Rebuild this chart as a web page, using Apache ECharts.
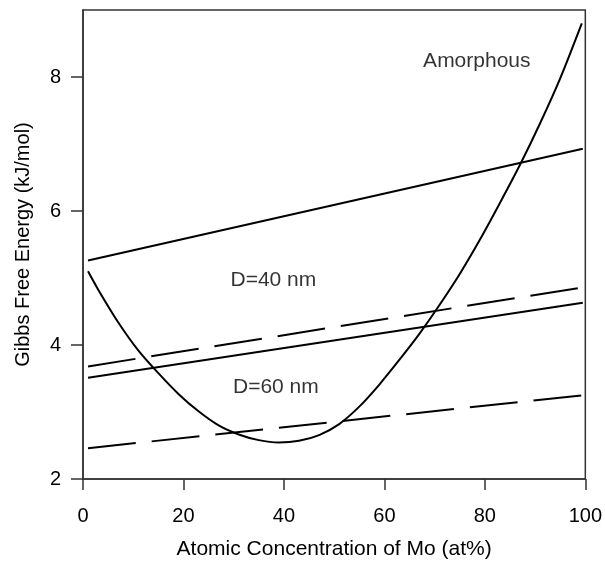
<!DOCTYPE html>
<html>
<head>
<meta charset="utf-8">
<script src="https://cdn.jsdelivr.net/npm/echarts@6/dist/echarts.min.js"></script>
<style>
  html, body { margin: 0; padding: 0; background: #fff; }
  #chart { width: 605px; height: 565px; }
</style>
</head>
<body>
<div id="chart"></div>
<script>
// x ticks / y ticks
const xTicks = [0, 20, 40, 60, 80, 100]
const yTicks = [2, 4, 6, 8]

// amorphous free energy curve
const amorphX = [1, 3, 7, 11, 15, 19, 23, 27, 31, 35, 39, 43, 47, 51, 55, 59, 63, 67, 71, 75, 79, 83, 87, 91, 95, 99.3]
const amorphY = [5.10, 4.83, 4.34, 3.92, 3.58, 3.27, 3.01, 2.80, 2.665, 2.58, 2.545, 2.57, 2.655, 2.82, 3.08, 3.41, 3.78, 4.17, 4.60, 5.06, 5.57, 6.12, 6.69, 7.31, 7.98, 8.80]

// straight lines: end points at x = 1 and x = 99.5
const lineX = [1, 99.5]
const topSolidY = [5.26, 6.93]
const d40DashY = [3.68, 4.86]
const d40SolidY = [3.51, 4.63]
const d60DashY = [2.46, 3.25]

// text notes
const noteText = ['Amorphous', 'D=40 nm', 'D=60 nm']
const noteX = [78.4, 37.9, 38.4]
const noteY = [8.23, 4.97, 3.37]

const pairs = (xs, ys) => xs.map((x, i) => [x, ys[i]])

const ink = '#000'
const font = 'Liberation Sans, Arial, Helvetica, sans-serif'

const chart = echarts.init(document.getElementById('chart'), null, { renderer: 'canvas' })

const solid = { color: ink, width: 2, type: 'solid' }
const dashed = { color: ink, width: 2, type: [48, 16] }

const option = {
  animation: false,
  backgroundColor: '#fff',
  grid: {
    left: 83, right: 19, top: 10, bottom: 84,
    show: true, borderColor: '#333', borderWidth: 1.5,
  },
  xAxis: {
    type: 'value',
    min: 0, max: 100, interval: 20,
    name: 'Atomic Concentration of Mo (at%)',
    nameLocation: 'middle',
    nameGap: 60,
    nameTextStyle: { fontSize: 21, color: ink, fontFamily: font },
    axisLine: { show: true, onZero: false, lineStyle: { color: '#333', width: 1.5 } },
    axisTick: { show: true, inside: false, length: 11, customValues: xTicks, lineStyle: { color: '#333', width: 1.5 } },
    axisLabel: { customValues: xTicks, margin: 27, fontSize: 20, color: ink, fontFamily: font },
    splitLine: { show: false },
  },
  yAxis: {
    type: 'value',
    min: 2, max: 9,
    name: 'Gibbs Free Energy (kJ/mol)',
    nameLocation: 'middle',
    nameGap: 50,
    nameTextStyle: { fontSize: 20, color: ink, fontFamily: font },
    axisLine: { show: true, onZero: false, lineStyle: { color: '#333', width: 1.5 } },
    axisTick: { show: true, inside: false, length: 12, customValues: yTicks, lineStyle: { color: '#333', width: 1.5 } },
    axisLabel: { customValues: yTicks, margin: 22, fontSize: 20, color: ink, fontFamily: font },
    splitLine: { show: false },
  },
  series: [
    { type: 'line', data: pairs(amorphX, amorphY), smooth: 0.3, showSymbol: false, lineStyle: solid },
    { type: 'line', data: pairs(lineX, topSolidY), showSymbol: false, lineStyle: solid },
    { type: 'line', data: pairs(lineX, d40DashY), showSymbol: false, lineStyle: dashed },
    { type: 'line', data: pairs(lineX, d40SolidY), showSymbol: false, lineStyle: solid },
    { type: 'line', data: pairs(lineX, d60DashY), showSymbol: false, lineStyle: dashed },
    {
      type: 'scatter',
      symbolSize: 0,
      data: noteText.map((t, i) => ({ name: t, value: [noteX[i], noteY[i]] })),
      label: {
        show: true, position: 'inside', formatter: '{b}',
        fontSize: 21, color: ink, fontFamily: font,
      },
      silent: true,
    },
  ],
}

chart.setOption(option)
</script>
</body>
</html>
